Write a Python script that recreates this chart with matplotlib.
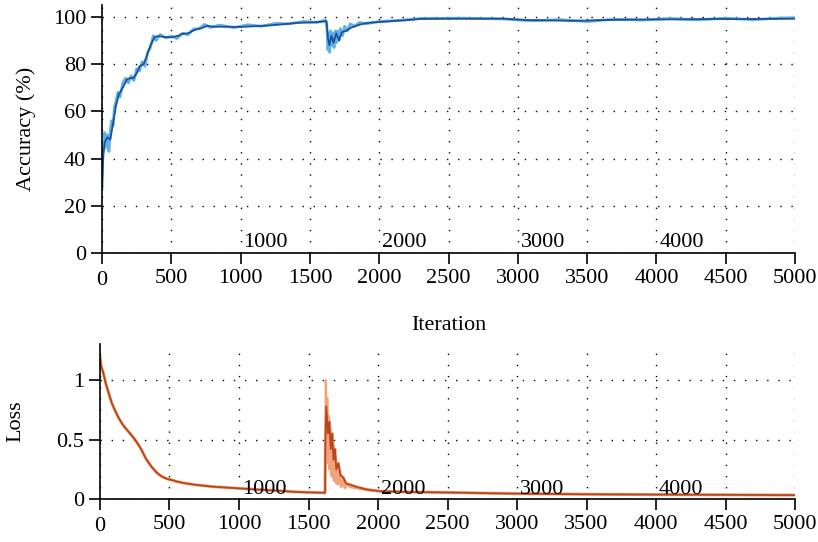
import matplotlib.pyplot as plt
import numpy as np

plt.rcParams["font.family"] = ["Liberation Serif", "DejaVu Serif"]
plt.rcParams["font.size"] = 16

# accuracy, smoothed (dark) curve
acc_iter = [0, 10, 20, 40, 60, 80, 100, 120, 150, 180, 200, 225, 250, 270, 300, 320,
            350, 380, 400, 450, 500, 550, 580, 620, 670, 720, 760, 800, 900, 1000,
            1100, 1200, 1300, 1400, 1500, 1560, 1600, 1620, 1630, 1640, 1655, 1670,
            1690, 1710, 1730, 1760, 1800, 1850, 1900, 1950, 2000, 2100, 2200, 2300,
            2500, 2700, 2900, 3000, 3100, 3200, 3300, 3400, 3500, 3600, 3800, 4000,
            4200, 4400, 4600, 4800, 5000]
acc_smooth = [28, 42, 47, 49, 48, 55, 62, 67, 70, 73.5, 74, 74, 76, 79, 80, 83,
              88, 91.5, 91.8, 91.5, 91.3, 92, 92.8, 93, 94.5, 95.2, 96.2, 95.8, 95.8, 95.7,
              96.0, 96.3, 96.8, 97.4, 97.6, 97.8, 98.0, 98.2, 91, 88, 92, 89,
              93, 90, 93.5, 94, 95.5, 96.5, 97.3, 97.6, 97.8, 98.2, 98.6, 99.1,
              99.2, 99.2, 99.2, 98.8, 98.6, 98.5, 98.4, 98.3, 98.4, 98.6, 98.8, 98.9,
              98.9, 99.1, 99.0, 99.1, 99.2]

# accuracy, raw (light) curve
acc_raw_iter = [0, 5, 10, 15, 20, 30, 40, 50, 60, 70, 80, 90, 100, 115, 130, 150,
                170, 190, 210, 230, 250, 270, 290, 310, 330, 350, 370, 390, 420, 460,
                500, 540, 580, 620, 660, 700, 740, 780, 850, 950, 1050, 1150, 1250,
                1350, 1450, 1550, 1610, 1622, 1630, 1636, 1642, 1650, 1658, 1666, 1674,
                1682, 1690, 1700, 1710, 1720, 1735, 1750, 1770, 1790, 1820, 1860, 1900,
                2000, 2150, 2300, 2600, 2900, 3100, 3300, 3500, 3700, 3900, 4100, 4300,
                4500, 4700, 4900, 5000]
acc_raw = [27, 40, 46, 44, 51, 45, 50, 43, 52, 56, 54, 62, 64, 68, 66, 72,
           74, 72, 75, 73, 78, 77, 81, 79, 85, 87, 92, 90, 92.5, 91,
           91.8, 90.8, 93, 92.4, 94.8, 95, 96.8, 95.5, 96.5, 95.4, 96.6, 96, 97.2,
           97, 98, 97.6, 98.6, 96, 86, 93, 85, 94, 88, 93, 87,
           94, 89, 94, 90, 95, 92, 96, 94, 97, 96, 97.6, 97,
           98, 98.5, 99.3, 99.4, 99.1, 98.3, 98.8, 98.0, 99.0, 98.6, 99.3, 98.7,
           99.4, 98.8, 99.5, 99.6]

# loss, smoothed (dark) curve
loss_iter = [0, 8, 24, 40, 60, 84, 110, 135, 156, 180, 210, 252, 280, 300, 330, 372,
             410, 444, 480, 516, 560, 600, 683, 800, 900, 995, 1100, 1200, 1300, 1403,
             1500, 1619, 1622, 1628, 1640, 1650, 1660, 1670, 1680, 1690, 1700, 1715,
             1730, 1750, 1770, 1800, 1850, 1920, 2014, 2200, 2500, 3000, 3500, 4000,
             4500, 5000]
loss_smooth = [1.2, 1.12, 1.06, 0.98, 0.90, 0.81, 0.74, 0.68, 0.64, 0.60, 0.56, 0.50,
               0.45, 0.41, 0.34, 0.27, 0.22, 0.19, 0.17, 0.16, 0.145, 0.135, 0.12,
               0.105, 0.097, 0.09, 0.082, 0.075, 0.068, 0.06, 0.056, 0.052, 0.5, 0.78,
               0.55, 0.65, 0.42, 0.55, 0.33, 0.42, 0.25, 0.3, 0.2, 0.18, 0.13, 0.12,
               0.1, 0.08, 0.065, 0.06, 0.055, 0.045, 0.04, 0.037, 0.035, 0.033]

# loss, raw (light) curve
loss_raw_iter = [1619, 1622, 1625, 1630, 1635, 1640, 1645, 1650, 1656, 1662, 1668,
                 1674, 1680, 1686, 1692, 1700, 1708, 1716, 1725, 1735, 1745, 1760,
                 1780, 1800, 1850, 1950, 2100, 3000, 4000, 5000]
loss_raw = [0.053, 0.6, 1.0, 0.45, 0.85, 0.3, 0.7, 0.25, 0.6, 0.2, 0.5,
            0.18, 0.45, 0.15, 0.36, 0.13, 0.3, 0.12, 0.22, 0.1, 0.16, 0.09,
            0.12, 0.1, 0.09, 0.07, 0.06, 0.045, 0.037, 0.033]

x_ticks = [0, 500, 1000, 1500, 2000, 2500, 3000, 3500, 4000, 4500, 5000]
epoch_marks = [1000, 2000, 3000, 4000]
acc_ticks = [0, 20, 40, 60, 80, 100]
loss_ticks = [0, 0.5, 1]
loss_tick_labels = ["0", "0.5", "1"]


def style_axis(ax, ylim, yticks, yticklabels=None):
    ax.set_xlim(0, 5000)
    ax.set_ylim(*ylim)
    ax.set_xticks(x_ticks)
    ax.set_yticks(yticks)
    if yticklabels is not None:
        ax.set_yticklabels(yticklabels)
    for side in ("top", "right"):
        ax.spines[side].set_visible(False)
    for side in ("left", "bottom"):
        ax.spines[side].set_linewidth(1.2)
    ax.tick_params(direction="out", length=8, width=1.2, labelsize=16)
    ax.grid(True, linestyle=(0, (1, 7)), color="black", linewidth=1.0)
    ax.set_axisbelow(True)
    ax.xaxis.get_major_ticks()[0].set_pad(5)
    for mark in epoch_marks:
        ax.text(mark + 20, ylim[1] * 0.003, str(mark), ha="left", va="bottom",
                fontsize=16)


fig = plt.figure(figsize=(8.18, 5.42), dpi=100)
ax_acc = fig.add_axes([0.1247, 0.5332, 0.8473, 0.4576])
ax_loss = fig.add_axes([0.1222, 0.0793, 0.8498, 0.2854])

ax_acc.plot(acc_raw_iter, acc_raw, color="#5db3e6", linewidth=2.0)
ax_acc.plot(acc_iter, acc_smooth, color="#1d4f9a", linewidth=1.3)
style_axis(ax_acc, (0, 105), acc_ticks)
ax_acc.set_ylabel("Accuracy (%)", fontsize=16, labelpad=12)

ax_loss.plot(loss_iter, loss_smooth, color="#f3a37a", linewidth=2.2)
ax_loss.plot(loss_raw_iter, loss_raw, color="#f3a37a", linewidth=1.6)
ax_loss.plot(loss_iter, loss_smooth, color="#b8461c", linewidth=1.3)
style_axis(ax_loss, (0, 1.3), loss_ticks, loss_tick_labels)
ax_loss.set_ylabel("Loss", fontsize=16, labelpad=22)

fig.text(0.549, 1 - 325 / 542, "Iteration", ha="center", va="center", fontsize=16)

fig.savefig("out.png", dpi=100)
